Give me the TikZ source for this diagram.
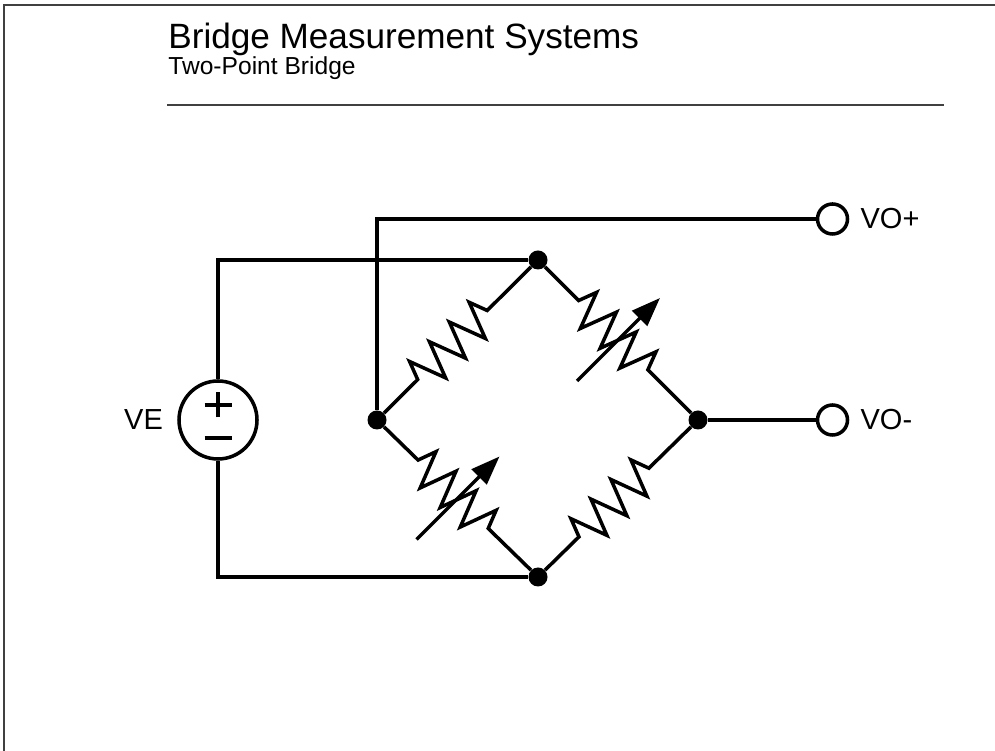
\documentclass[tikz,border=0pt]{standalone}
\usepackage{fontspec}
\setmainfont{Liberation Sans}
\usepackage{tikz}
\usetikzlibrary{calc,positioning,arrows.meta,decorations.pathmorphing}

\begin{document}
\begin{tikzpicture}

\tikzset{wire/.style={line width=2pt},
junction/.style={circle, fill=black, minimum size=0.38cm, inner sep=0pt},
terminal/.style={circle, draw=black, line width=2pt, fill=white, minimum size=0.6cm, inner sep=0pt},
source/.style={circle, draw=black, line width=2pt, minimum size=1.56cm, inner sep=0pt},
lbl/.style={inner sep=0pt, font=\fontsize{16.5}{19}\selectfont},
%zigzag of a resistor, the leads are left straight
resistor/.style={wire, decorate, decoration={zigzag, segment length=0.56cm, amplitude=0.37cm, pre length=0.95cm, post length=0.95cm}},
trimArrow/.style={wire, -{Triangle[length=0.58cm,width=0.42cm]}}}

\useasboundingbox (0,0) rectangle (19.9,15.02);

%slide frame and heading
\draw[line width=1.1pt, color=black!75] (0.08,0) -- (0.08,14.92) -- (19.9,14.92);

\node[anchor=base west, inner sep=0pt, font=\fontsize{20}{24}\selectfont] (title) at (3.36,14.04) {Bridge Measurement Systems};
\node[anchor=base west, inner sep=0pt, font=\fontsize{14}{17}\selectfont] (subtitle) at (3.36,13.52) {Two-Point Bridge};

\draw[line width=1.3pt, color=black!75] (3.34,12.92) -- (18.88,12.92);

%corners of the bridge
\foreach \n/\x/\y in {T/10.76/9.82, L/7.54/6.62, R/13.96/6.62, B/10.76/3.48}
  \node[junction] (\n) at (\x,\y) {};

\foreach \a/\b in {L/T, T/R, L/B, B/R}
  \draw[resistor] (\a) -- (\b);

%the two variable arms
\foreach \a/\b in {T/R, L/B}
  \draw[trimArrow] ($(\a)!0.5!(\b)+(-0.82,-0.82)$) -- ($(\a)!0.5!(\b)+(0.84,0.84)$);

%excitation
\node[source] (vsrc) at (4.36,6.62) {};
\draw[wire] ($(vsrc)+(-0.27,0.30)$) -- ($(vsrc)+(0.27,0.30)$);
\draw[wire] ($(vsrc)+(0,0.05)$) -- ($(vsrc)+(0,0.55)$);
\draw[wire] ($(vsrc)+(-0.27,-0.36)$) -- ($(vsrc)+(0.27,-0.36)$);

\draw[wire] (vsrc) |- (T);
\draw[wire] (vsrc) |- (B);

\node[lbl, left=0.28cm of vsrc] (lblVE) {VE};

%outputs
\node[terminal] (VOp) at (16.65,10.64) {};
\node[terminal] (VOm) at (16.65,6.62) {};

\draw[wire] (L) |- (VOp);
\draw[wire] (R) -- (VOm);

\node[lbl, right=0.22cm of VOp] (lblVOp) {VO+};
\node[lbl, right=0.22cm of VOm] (lblVOm) {VO-};

\end{tikzpicture}
\end{document}
